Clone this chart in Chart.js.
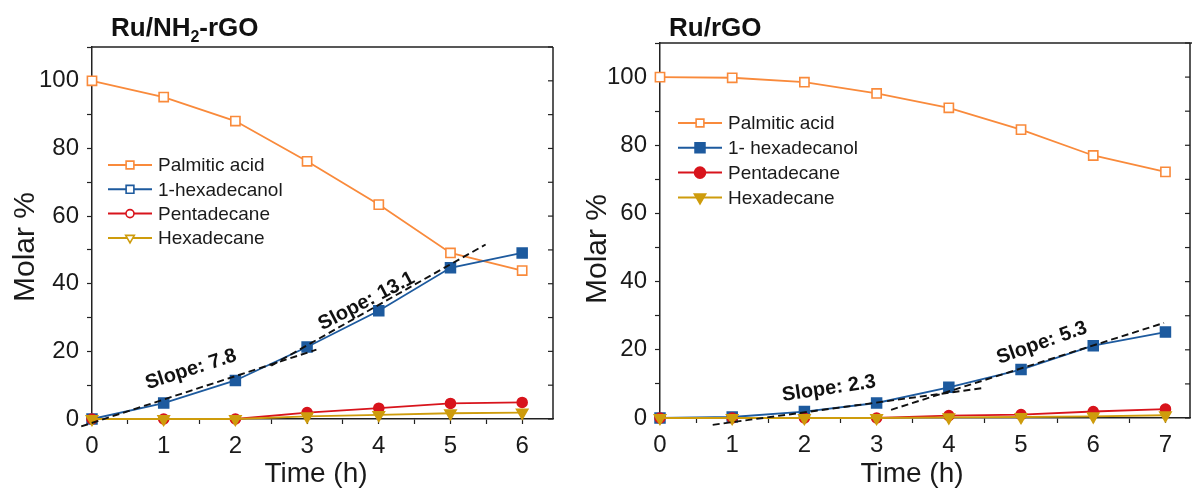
<!DOCTYPE html>
<html>
<head>
<meta charset="utf-8">
<script src="https://cdn.jsdelivr.net/npm/chart.js@4.4.1/dist/chart.umd.min.js"></script>
<style>
body{margin:0;background:#fff;width:1192px;height:490px;overflow:hidden;position:relative}
.box{position:absolute;top:0;height:490px}
#LeftBox{left:0;width:568px}
#RightBox{left:568px;width:624px}
</style>
</head>
<body>
<div class="box" id="LeftBox"><canvas id="LeftChartHTML"></canvas></div>
<div class="box" id="RightBox"><canvas id="RightChartHTML"></canvas></div>
<script>
//												Data
// Ru/NH2-rGO
const TimeA=[0,1,2,3,4,5,6]
const PalmiticA=[100,95.2,88.1,76.2,63.4,49.1,43.9]
const HexadecanolA=[0,4.7,11.4,21.3,32.0,44.7,49.1]
const PentadecaneA=[0,0,0,1.9,3.2,4.6,4.9]
const HexadecaneA=[0,0,0,0.8,1.2,1.7,1.9]
const FitLowA=[[-0.15,-2.2],[3.13,20.5]]
const FitHighA=[[2.5,15.8],[5.49,51.6]]
const SlopeTextA=['Slope: 7.8','Slope: 13.1']
const SlopeAtA=[[1.38,14.6],[3.83,34.8]]

// Ru/rGO
const TimeB=[0,1,2,3,4,5,6,7]
const PalmiticB=[100,99.8,98.5,95.2,91.0,84.6,77.0,72.2]
const HexadecanolB=[0,0.3,1.9,4.4,9.0,14.2,21.2,25.2]
const PentadecaneB=[0,0,0,0,0.7,1.0,1.9,2.6]
const HexadecaneB=[0,0,0,0,0.2,0.3,0.5,0.8]
const FitLowB=[[0.73,-2.0],[4.48,8.8]]
const FitHighB=[[3.2,2.4],[6.98,27.9]]
const SlopeTextB=['Slope: 2.3','Slope: 5.3']
const SlopeAtB=[[2.34,8.6],[5.29,22.0]]

const LABELS=['Palmitic acid','1-hexadecanol','Pentadecane','Hexadecane']
const LABELSB=['Palmitic acid','1- hexadecanol','Pentadecane','Hexadecane']

//												Style
const ORANGE='#F98A3B',BLUE='#1D5A9E',RED='#D8141C',GOLD='#CE9C0C',INK='#1a1a1a'
const FONT='"Liberation Sans", Arial, sans-serif'
Chart.defaults.font.family=FONT
Chart.defaults.color=INK

//												Helper Functions
function Pts(xs,ys){return xs.map((t,i)=>({x:t,y:ys[i]}))}
function Series(label,xs,ys,color,style,fill,r,rot,order){return{label:label,data:Pts(xs,ys),showLine:true,borderColor:color,backgroundColor:fill,pointBackgroundColor:fill,pointBorderColor:color,pointStyle:style,pointRadius:r,pointRotation:rot,pointBorderWidth:1.6,borderWidth:1.8,order:order,clip:false}}
function Fit(p){return{data:p.map(q=>({x:q[0],y:q[1]})),showLine:true,borderColor:'#111',borderDash:[7,4],borderWidth:1.9,pointRadius:0,order:0,clip:false,fit:true}}

function DrawMarker(ctx,ds,x,y,r,fill){
	ctx.fillStyle=fill;ctx.strokeStyle=ds.borderColor;ctx.lineWidth=1.6
	Chart.helpers.drawPoint(ctx,{pointStyle:ds.pointStyle,rotation:ds.pointRotation||0,radius:r,borderWidth:1.6},x,y)
}

//												Plugin: frame, titles, legend, slope labels
const decoPlugin={
	id:'deco',
	afterDatasetsDraw(chart,args,o){
		const {ctx,scales:{x,y}}=chart
		ctx.save()
		ctx.fillStyle='#111';ctx.font='bold 20px '+FONT;ctx.textAlign='center';ctx.textBaseline='middle'
		o.slopeText.forEach((s,i)=>{
			ctx.save()
			ctx.translate(x.getPixelForValue(o.slopeAt[i][0]),y.getPixelForValue(o.slopeAt[i][1]))
			ctx.rotate(o.slopeAngle[i]*Math.PI/180)
			ctx.fillText(s,0,0)
			ctx.restore()
		})
		ctx.restore()
	},
	afterDraw(chart,args,o){
		const {ctx,chartArea:a,scales:{y}}=chart
		ctx.save()
		// frame top + right with inward ticks
		ctx.strokeStyle='#222';ctx.lineWidth=1.5
		ctx.beginPath();ctx.moveTo(a.left,a.top);ctx.lineTo(o.topTo||a.right,a.top);ctx.moveTo(a.right,a.top);ctx.lineTo(a.right,a.bottom);ctx.stroke()
		ctx.lineWidth=1.2
		y.ticks.forEach(t=>{const p=y.getPixelForValue(t.value);ctx.beginPath();ctx.moveTo(a.right,p);ctx.lineTo(a.right-5,p);ctx.stroke()})
		// title
		ctx.fillStyle='#111';ctx.textAlign='left';ctx.textBaseline='alphabetic'
		let tx=o.title.x
		o.title.parts.forEach(p=>{
			ctx.font=(p[1]?'bold 16px ':'bold 26px ')+FONT
			ctx.fillText(p[0],tx,o.title.y+(p[1]?6:0))
			tx+=ctx.measureText(p[0]).width
		})
		// axis titles
		ctx.fillStyle=INK;ctx.textAlign='center';ctx.textBaseline='middle'
		ctx.font='28px '+FONT
		ctx.fillText('Time (h)',o.xTitle.x,o.xTitle.y)
		ctx.save();ctx.translate(o.yTitle.x,o.yTitle.y);ctx.rotate(-Math.PI/2)
		ctx.font='30px '+FONT
		ctx.fillText('Molar %',0,0);ctx.restore()
		// legend
		const L=o.legend
		ctx.font='19px '+FONT;ctx.textBaseline='middle';ctx.textAlign='left'
		chart.data.datasets.filter(d=>!d.fit).forEach((ds,i)=>{
			const yy=L.y+i*L.row
			ctx.strokeStyle=ds.borderColor;ctx.lineWidth=2
			ctx.beginPath();ctx.moveTo(L.x,yy);ctx.lineTo(L.x+L.len,yy);ctx.stroke()
			DrawMarker(ctx,ds,L.x+L.len/2,yy,L.r[i],L.hollow?'#fff':ds.pointBackgroundColor)
			ctx.fillStyle=INK
			ctx.fillText(ds.label,L.x+L.len+6,yy+1)
		})
		ctx.restore()
	}
}

function Options(xmax,padTop,padRight,xHeight,deco){
	return{
		responsive:true,maintainAspectRatio:false,animation:false,devicePixelRatio:1,
		layout:{autoPadding:false,padding:{top:padTop,right:padRight,left:0,bottom:0}},
		plugins:{legend:{display:false},tooltip:{enabled:false},deco:deco},
		scales:{
			x:{type:'linear',min:0,max:xmax,
				afterFit:s=>{s.height=xHeight;s.paddingLeft=0;s.paddingRight=0},
				border:{color:'#222',width:1.5},
				grid:{drawOnChartArea:false,tickLength:5,tickColor:'#222',tickWidth:1.2},
				ticks:{stepSize:0.5,includeBounds:false,autoSkip:false,maxRotation:0,padding:8,font:{size:24},color:INK,
					callback:v=>Number.isInteger(v)?v:''}
			},
			y:{type:'linear',min:0,max:110,
				afterFit:s=>{s.width=92;s.paddingTop=0;s.paddingBottom=0},
				border:{color:'#222',width:1.5},
				grid:{drawOnChartArea:false,tickLength:5,tickColor:'#222',tickWidth:1.2},
				ticks:{stepSize:10,autoSkip:false,padding:8,font:{size:24},color:INK,
					callback:v=>(v%20===0&&v<=100)?v:''}
			}
		}
	}
}

//												Charts
let LeftChart=new Chart(document.getElementById('LeftChartHTML'),{
	type:'scatter',
	plugins:[decoPlugin],
	data:{datasets:[
		Series(LABELS[0],TimeA,PalmiticA,ORANGE,'rect','#fff',6.5,0,4),
		Series(LABELS[1],TimeA,HexadecanolA,BLUE,'rect',BLUE,7,0,3),
		Series(LABELS[2],TimeA,PentadecaneA,RED,'circle',RED,5,0,2),
		Series(LABELS[3],TimeA,HexadecaneA,GOLD,'triangle',GOLD,6.5,180,1),
		Fit(FitLowA),Fit(FitHighA)
	]},
	options:Options(6.43,47,15,71,{
		slopeText:SlopeTextA,slopeAt:SlopeAtA,slopeAngle:[-17.8,-27.5],
		title:{x:111,y:36,parts:[['Ru/NH',0],['2',1],['-rGO',0]]},
		xTitle:{x:316,y:474},yTitle:{x:26,y:247},
		legend:{x:108,y:165,row:24.3,len:44,hollow:true,r:[5.5,5.5,4,5]}
	})
})

let RightChart=new Chart(document.getElementById('RightChartHTML'),{
	type:'scatter',
	plugins:[decoPlugin],
	data:{datasets:[
		Series(LABELSB[0],TimeB,PalmiticB,ORANGE,'rect','#fff',6.5,0,4),
		Series(LABELSB[1],TimeB,HexadecanolB,BLUE,'rect',BLUE,7,0,3),
		Series(LABELSB[2],TimeB,PentadecaneB,RED,'circle',RED,5,0,2),
		Series(LABELSB[3],TimeB,HexadecaneB,GOLD,'triangle',GOLD,6.5,180,1),
		Fit(FitLowB),Fit(FitHighB)
	]},
	options:Options(7.34,43,2,72,{
		slopeText:SlopeTextB,slopeAt:SlopeAtB,slopeAngle:[-8.4,-19.5],
		title:{x:101,y:36,parts:[['Ru/rGO',0]]},
		xTitle:{x:344,y:474},yTitle:{x:30,y:249},topTo:624,
		legend:{x:110,y:123,row:24.8,len:44,hollow:false,r:[5.5,7,5.5,6.5]}
	})
})
</script>
</body>
</html>
